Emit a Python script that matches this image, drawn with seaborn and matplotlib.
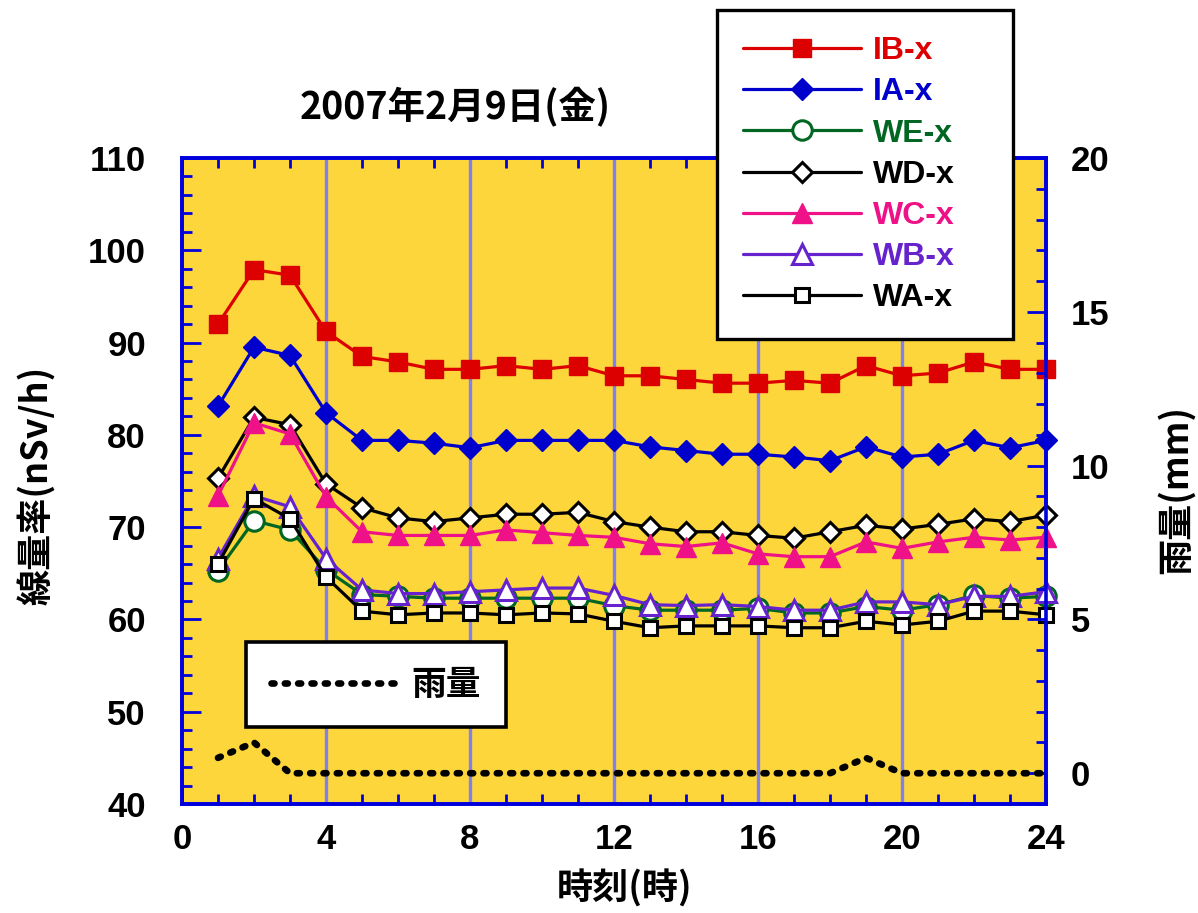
import matplotlib
matplotlib.use('Agg')
import matplotlib.pyplot as plt
from matplotlib.ticker import MultipleLocator
import seaborn as sns

# ------------------------------------------------------------------
# Data
# ------------------------------------------------------------------
hours = [1, 2, 3, 4, 5, 6, 7, 8, 9, 10, 11, 12,
         13, 14, 15, 16, 17, 18, 19, 20, 21, 22, 23, 24]

ib_x = [92.0, 97.9, 97.3, 91.2, 88.5, 87.9, 87.1, 87.1, 87.5, 87.1, 87.5, 86.4,
        86.4, 86.0, 85.6, 85.6, 85.9, 85.6, 87.5, 86.4, 86.7, 87.9, 87.1, 87.1]
ia_x = [83.1, 89.5, 88.6, 82.4, 79.4, 79.4, 79.1, 78.6, 79.4, 79.4, 79.4, 79.4,
        78.7, 78.3, 77.9, 77.9, 77.6, 77.2, 78.7, 77.6, 77.9, 79.4, 78.6, 79.4]
we_x = [65.3, 70.7, 69.7, 65.4, 62.7, 62.5, 62.3, 62.3, 62.3, 62.3, 62.3, 61.5,
        61.0, 61.0, 61.0, 61.2, 60.7, 60.7, 61.4, 61.0, 61.6, 62.6, 62.3, 62.5]
wd_x = [75.3, 81.9, 81.1, 74.7, 72.1, 71.0, 70.6, 71.0, 71.4, 71.4, 71.6, 70.6,
        70.0, 69.5, 69.5, 69.1, 68.8, 69.5, 70.2, 69.8, 70.3, 70.9, 70.6, 71.3]
wc_x = [73.4, 81.3, 80.1, 73.3, 69.5, 69.1, 69.1, 69.1, 69.7, 69.4, 69.1, 68.9,
        68.2, 67.9, 68.3, 67.1, 66.8, 66.8, 68.4, 67.7, 68.4, 68.9, 68.6, 68.9]
wb_x = [66.6, 73.4, 72.2, 66.6, 63.2, 62.8, 62.8, 63.0, 63.2, 63.4, 63.4, 62.6,
        61.6, 61.5, 61.6, 61.4, 61.0, 61.0, 61.9, 61.9, 61.6, 62.5, 62.5, 63.0]
wa_x = [66.0, 73.1, 70.9, 64.6, 60.9, 60.5, 60.7, 60.7, 60.5, 60.7, 60.6, 59.8,
        59.1, 59.3, 59.3, 59.3, 59.1, 59.1, 59.8, 59.4, 59.8, 60.9, 60.9, 60.5]
rain = [0.5, 1.0, 0, 0, 0, 0, 0, 0, 0, 0, 0, 0,
        0, 0, 0, 0, 0, 0, 0.5, 0, 0, 0, 0, 0]

series_names = ['IB-x', 'IA-x', 'WE-x', 'WD-x', 'WC-x', 'WB-x', 'WA-x']
series_values = [ib_x, ia_x, we_x, wd_x, wc_x, wb_x, wa_x]

title_text = '2007年2月9日(金)'
xlabel_text = '時刻(時)'
ylabel_text = '線量率(nSv/h)'
y2label_text = '雨量(mm)'
rain_label = '雨量'

# style per series: color, marker, size, face, edge width
STYLES = {
    'IB-x': dict(color='#dd0000', marker='s', ms=13, mfc='#dd0000', mew=1.0),
    'IA-x': dict(color='#0000cc', marker='D', ms=11.5, mfc='#0000cc', mew=1.0),
    'WE-x': dict(color='#006622', marker='o', ms=14, mfc='white', mew=2.2),
    'WD-x': dict(color='black', marker='D', ms=10.5, mfc='white', mew=2.2),
    'WC-x': dict(color='#ee1188', marker='^', ms=15, mfc='#ee1188', mew=1.0),
    'WB-x': dict(color='#6622cc', marker='^', ms=14, mfc='white', mew=2.2),
    'WA-x': dict(color='black', marker='s', ms=10, mfc='white', mew=2.2),
}

BG = '#FDD63C'
SPINE = '#0000dd'
GRID = '#8080f0'
CJK = ['Noto Sans CJK JP', 'DejaVu Sans']

sns.set_style('ticks')
plt.rcParams['font.family'] = ['Liberation Sans', 'Noto Sans CJK JP', 'DejaVu Sans']
plt.rcParams['font.weight'] = 'bold'
plt.rcParams['text.color'] = 'black'
plt.rcParams['axes.labelcolor'] = 'black'
plt.rcParams['xtick.labelcolor'] = 'black'
plt.rcParams['ytick.labelcolor'] = 'black'

fig = plt.figure(figsize=(11.98, 9.13), dpi=100)
ax = fig.add_axes([182 / 1198, 1 - 804 / 913, 864 / 1198, 646 / 913])
ax.set_facecolor(BG)
ax2 = ax.twinx()

# ------------------------------------------------------------------
# Series
# ------------------------------------------------------------------
for name, vals in zip(series_names, series_values):
    st = STYLES[name]
    sns.lineplot(x=hours, y=vals, ax=ax, color=st['color'], lw=2.3,
                 marker=st['marker'], ms=st['ms'], mfc=st['mfc'],
                 mec=st['color'], mew=st['mew'], clip_on=False,
                 label=name, legend=False, zorder=5)

rain_line, = ax2.plot(hours, rain, color='black', lw=4.8,
                      linestyle=(0, (0.45, 1.55)), dash_capstyle='round',
                      label=rain_label)

# ------------------------------------------------------------------
# Axes
# ------------------------------------------------------------------
ax.set_xlim(0, 24)
ax.set_ylim(40, 110)
ax2.set_ylim(-1, 20)

ax.xaxis.set_major_locator(MultipleLocator(4))
ax.xaxis.set_minor_locator(MultipleLocator(1))
ax.yaxis.set_major_locator(MultipleLocator(10))
ax.yaxis.set_minor_locator(MultipleLocator(2))
ax2.yaxis.set_major_locator(MultipleLocator(5))
ax2.yaxis.set_minor_locator(MultipleLocator(1))

for a in (ax, ax2):
    for sp in a.spines.values():
        sp.set_color(SPINE)
        sp.set_linewidth(2.6)
    a.tick_params(which='both', direction='in', color=SPINE, width=2)
    a.tick_params(which='major', length=14)
    a.tick_params(which='minor', length=7)

ax.tick_params(axis='x', which='both', top=True, bottom=True)
ax.tick_params(axis='y', which='both', left=True, right=False)
ax.tick_params(axis='x', labelsize=25, pad=14)
ax.tick_params(axis='y', labelsize=25, pad=26)
ax2.tick_params(axis='y', which='both', right=True, left=False,
                labelsize=25, pad=18)

for lab in ax.get_xticklabels() + ax.get_yticklabels() + ax2.get_yticklabels():
    lab.set_fontweight('bold')

ax.grid(False)
ax2.grid(False)
for xv in [4, 8, 12, 16, 20]:
    ax.axvline(xv, color=GRID, lw=2.4, zorder=1)

# axis titles placed on the figure so they stay inside the canvas
fig.text(625 / 1198, 1 - 889 / 913, xlabel_text, family=CJK, fontsize=26,
         fontweight='bold', ha='center', va='center')
fig.text(37 / 1198, 1 - 485 / 913, ylabel_text, family=CJK, fontsize=26,
         fontweight='bold', ha='center', va='center', rotation=90)
fig.text(1176 / 1198, 1 - 490 / 913, y2label_text, family=CJK, fontsize=26,
         fontweight='bold', ha='center', va='center', rotation=90)

fig.text(455 / 1198, 1 - 107 / 913, title_text, family=CJK, fontsize=27,
         fontweight='bold', ha='center', va='center')

# ------------------------------------------------------------------
# Legends
# ------------------------------------------------------------------
handles = ax.get_lines()[:len(series_names)]
leg = fig.legend(handles, series_names, loc='upper left',
                 bbox_to_anchor=(717 / 1198, 1 - 338 / 913, 296 / 1198, 328 / 913),
                 bbox_transform=fig.transFigure, borderaxespad=0, mode='expand',
                 fontsize=23, handlelength=3.7, labelspacing=0.35,
                 borderpad=0.82, handletextpad=0.35, fancybox=False,
                 framealpha=1, edgecolor='black')
leg.get_frame().set_linewidth(2.4)
for txt, name in zip(leg.get_texts(), series_names):
    txt.set_color(STYLES[name]['color'])
    txt.set_fontweight('bold')

leg2 = ax2.legend([rain_line], [rain_label], loc='upper left',
                  bbox_to_anchor=(246 / 1198, 1 - 642 / 913),
                  bbox_transform=fig.transFigure, borderaxespad=0,
                  prop={'family': CJK, 'size': 25, 'weight': 'bold'},
                  handlelength=3.6, borderpad=0.72, handletextpad=0.45,
                  fancybox=False, framealpha=1, edgecolor='black')
leg2.get_frame().set_linewidth(2.6)

fig.savefig('out.png', dpi=100)
